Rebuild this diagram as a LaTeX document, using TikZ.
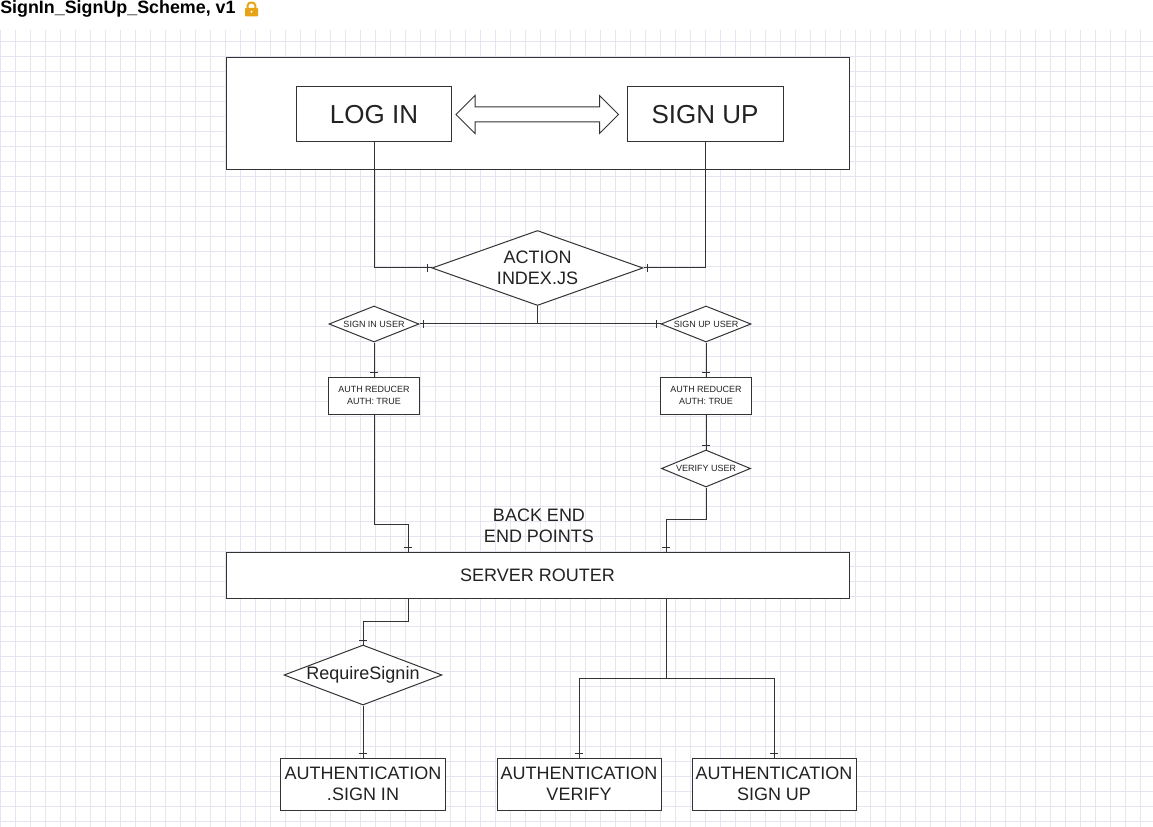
\documentclass[tikz,border=0pt]{standalone}
\usepackage{fontspec}
\setmainfont{Liberation Sans}
\usetikzlibrary{shapes.geometric,calc,decorations.markings}

\definecolor{linegray}{RGB}{51,51,51}
\definecolor{gridlav}{RGB}{229,229,241}
\definecolor{lockorange}{RGB}{232,163,23}
\definecolor{textdark}{RGB}{34,34,34}

\tikzset{
  box/.style={draw=linegray, fill=white, line width=0.75pt, inner sep=0pt, align=center, text=textdark},
  dia/.style={diamond, draw=linegray, fill=white, line width=0.75pt, inner sep=0pt, align=center, text=textdark},
  conn/.style={draw=linegray, line width=0.75pt},
  endtick/.style={postaction={decorate}, decoration={markings,
      mark=at position -3.2pt with {\draw[linegray, line width=0.75pt] (0pt,-2.7pt) -- (0pt,2.7pt);}}},
  bigfont/.style={font=\fontsize{19.5}{23}\selectfont},
  midfont/.style={font=\fontsize{13.5}{15.5}\selectfont},
  smallfont/.style={font=\fontsize{6.75}{9}\selectfont},
}

\begin{document}
\begin{tikzpicture}[x=0.75pt, y=-0.75pt]

    \useasboundingbox (0,0) rectangle (1153,827);

    % paper grid
    \begin{scope}
      \clip (0,30) rectangle (1153,827);
      \foreach \gx in {0,...,76}
        \draw[gridlav, line width=0.5pt] ({0.7+15*\gx},30) -- ({0.7+15*\gx},827);
      \foreach \gy in {0,...,52}
        \draw[gridlav, line width=0.5pt] (0,{41+15*\gy}) -- (1153,{41+15*\gy});
    \end{scope}

    % title and lock
    \node[anchor=base west, inner sep=0pt, font=\bfseries\fontsize{13.4}{15}\selectfont] (title) at (0,14) {SignIn\_SignUp\_Scheme, v1};
    \fill[lockorange, rounded corners=0.6pt] (245,8) rectangle (258,16.5);
    \draw[lockorange, line width=1.5pt] (247.6,8.5) -- (247.6,5.5) .. controls (247.6,1.5) and (255.4,1.5) .. (255.4,5.5) -- (255.4,8.5);
    \fill[white] (251.5,11.8) circle (0.9pt);

    % front end frame
    \node[box, minimum width=623*0.75pt, minimum height=112*0.75pt] (frame) at (537.5,114) {};
    \node[box, bigfont, minimum width=155*0.75pt, minimum height=55*0.75pt] (login) at (374,114.5) {LOG IN};
    \node[box, bigfont, minimum width=156*0.75pt, minimum height=55*0.75pt] (signup) at (705,114.5) {SIGN UP};

    % switch between forms
    \draw[linegray, fill=white, line width=0.75pt] ($(login.east)+(4,0)$) -- ++(19,-19) -- ++(0,11.5)
      -- ($(signup.west)+(-27,-7.5)$) -- ++(0,-11.5) -- ++(19,19) -- ++(-19,19) -- ++(0,-11.5)
      -- ($(login.east)+(23,7.5)$) -- ++(0,11.5) -- cycle;

    % actions
    \node[dia, midfont, aspect=2.8, minimum width=211*0.75pt, minimum height=75*0.75pt] (actn) at (537.5,268) {ACTION\\INDEX.JS};
    \draw[conn, endtick] (login.south) |- (actn.west);
    \draw[conn, endtick] (signup.south) |- (actn.east);

    \node[dia, smallfont, aspect=2.5, minimum width=90*0.75pt, minimum height=36*0.75pt] (siu) at (374,324) {SIGN IN USER};
    \node[dia, smallfont, aspect=2.5, minimum width=90*0.75pt, minimum height=36*0.75pt] (suu) at (706,324) {SIGN UP USER};
    \draw[conn, endtick] (actn.south) |- (siu.east);
    \draw[conn, endtick] (actn.south) |- (suu.west);

    % reducers
    \node[box, smallfont, minimum width=91*0.75pt, minimum height=37*0.75pt] (ar1) at (374,395.5) {AUTH REDUCER\\AUTH: TRUE};
    \node[box, smallfont, minimum width=91*0.75pt, minimum height=37*0.75pt] (ar2) at (706,395.5) {AUTH REDUCER\\AUTH: TRUE};
    \draw[conn, endtick] (siu.south) -- (ar1.north);
    \draw[conn, endtick] (suu.south) -- (ar2.north);

    \node[dia, smallfont, aspect=2.4, minimum width=89*0.75pt, minimum height=37*0.75pt] (vu) at (706,468.5) {VERIFY USER};
    \draw[conn, endtick] (ar2.south) -- (vu.north);

    % back end
    \node[midfont, align=center, text=textdark, inner sep=0pt] (bend) at (539,526) {BACK END\\END POINTS};
    \node[box, midfont, minimum width=623*0.75pt, minimum height=46*0.75pt] (router) at (537.5,575) {SERVER ROUTER};

    \coordinate (rin1) at (408,552);
    \coordinate (rin2) at (666,552);
    \coordinate (rout1) at (408,598);
    \coordinate (rout2) at (666,598);
    \draw[conn, endtick] (ar1.south) |- ++(34,110) -- (rin1);
    \draw[conn, endtick] (vu.south) |- ++(-40,32) -- (rin2);

    % middleware and controllers
    \node[dia, midfont, aspect=2.63, minimum width=158*0.75pt, minimum height=60*0.75pt] (rs) at (363,675) {RequireSignin};
    \draw[conn, endtick] (rout1) |- ++(-45,23) -- (rs.north);

    \node[box, midfont, minimum width=165*0.75pt, minimum height=52*0.75pt] (as1) at (363,784) {AUTHENTICATION\\.SIGN IN};
    \node[box, midfont, minimum width=164*0.75pt, minimum height=52*0.75pt] (as2) at (579,784) {AUTHENTICATION\\VERIFY};
    \node[box, midfont, minimum width=164*0.75pt, minimum height=52*0.75pt] (as3) at (774,784) {AUTHENTICATION\\SIGN UP};
    \draw[conn, endtick] (rs.south) -- (as1.north);

    \draw[conn] (rout2) -- ++(0,80) coordinate (split);
    \draw[conn, endtick] (split) -| (as2.north);
    \draw[conn, endtick] (split) -| (as3.north);

\end{tikzpicture}
\end{document}
